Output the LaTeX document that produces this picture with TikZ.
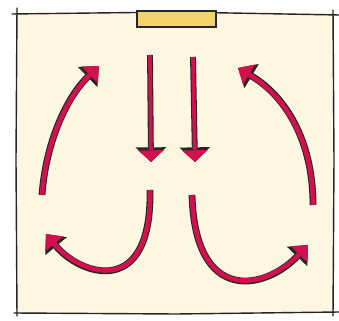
\documentclass[tikz,border=0pt]{standalone}
\usepackage{tikz}
\usetikzlibrary{arrows.meta}
\definecolor{paper}{HTML}{FDF6E1}
\definecolor{crim}{HTML}{D2104E}
\definecolor{lampyellow}{HTML}{F1D36C}

\begin{document}
\begin{tikzpicture}[x=0.03cm,y=-0.03cm,
    frame/.style={draw=black!85,line width=1.2pt,line cap=round},
    lamp/.style={rectangle,draw=black!85,line width=1pt,fill=lampyellow,minimum width=2.37cm,minimum height=0.48cm,inner sep=0pt},
    flow/.style={draw=crim,line width=4pt,-{Triangle[length=11pt,width=20pt,line width=0pt]},
        preaction={draw=black!85,line width=5.8pt,-{Triangle[length=13.5pt,width=24pt,line width=0pt]}}},
    fall/.style={draw=crim,line width=3.2pt,-{Triangle[length=10pt,width=22pt,line width=0pt]},
        preaction={draw=black!85,line width=5pt,-{Triangle[length=12.5pt,width=26pt,line width=0pt]}}}
]
\useasboundingbox (0,0) rectangle (339,321);

% the room
\fill[paper] (17,13) rectangle (333,313);
\draw[frame] (12,14) -- (176,12) -- (339,15);
\draw[frame] (17,8) -- (16,160) -- (17,316);
\draw[frame] (333,10) -- (334,160) -- (333,316);
\draw[frame] (14,313) -- (176,314) -- (339,312);

% supply at the ceiling
\node[lamp] (lamp) at (176.5,19) {};

% air falling down the middle
\coordinate (dl-s) at (150,55);
\coordinate (dl-e) at (151,162);
\coordinate (dr-s) at (193,57);
\coordinate (dr-e) at (195,162);
\draw[fall] (dl-s) -- (dl-e);
\draw[fall] (dr-s) -- (dr-e);

% spreading over the floor
\coordinate (bl-s) at (150,190);
\coordinate (bl-e) at (46,234);
\coordinate (br-s) at (192,195);
\coordinate (br-e) at (308,245);
\draw[flow] (bl-s) .. controls (152,300) and (80,275) .. (bl-e);
\draw[flow] (br-s) .. controls (195,305) and (265,290) .. (br-e);

% rising along the walls
\coordinate (ul-s) at (42,195);
\coordinate (ul-e) at (99,66);
\coordinate (ur-s) at (313,205);
\coordinate (ur-e) at (238,68);
\draw[flow] (ul-s) .. controls (46,140) and (68,96) .. (ul-e);
\draw[flow] (ur-s) .. controls (313,140) and (285,96) .. (ur-e);
\end{tikzpicture}
\end{document}
